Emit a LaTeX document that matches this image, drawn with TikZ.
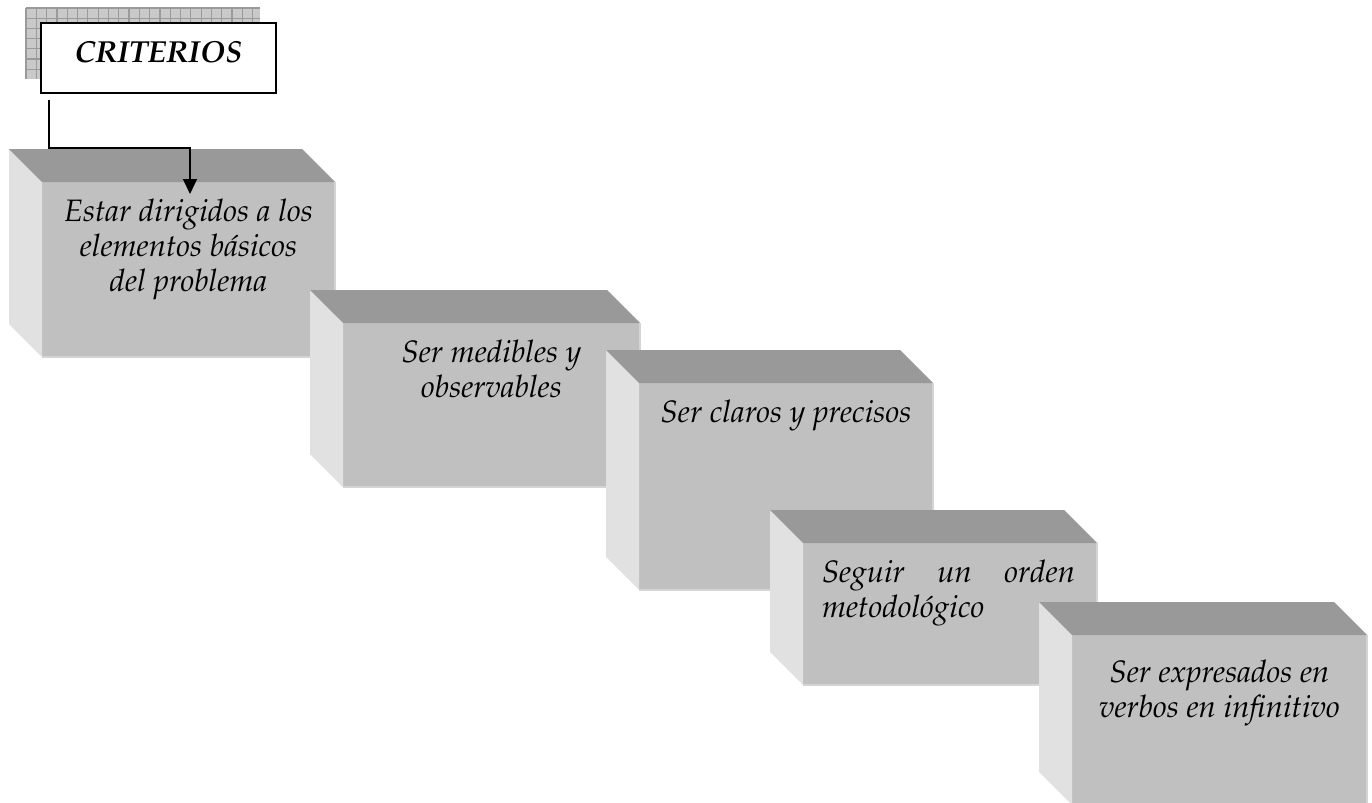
\documentclass[tikz,border=0pt]{standalone}
\usepackage[T1]{fontenc}
\renewcommand{\rmdefault}{ppl}
\usetikzlibrary{arrows.meta,calc}
\hyphenpenalty=10000
\exhyphenpenalty=10000
\definecolor{topc}{HTML}{999999}
\definecolor{frontc}{HTML}{C0C0C0}
\definecolor{leftc}{HTML}{E1E1E1}
\definecolor{edgec}{HTML}{D4D4D4}
\definecolor{shadc}{HTML}{C9C9C9}
\definecolor{gridc}{HTML}{9A9A9A}
\newcommand{\cubebox}[5]{%
  \node[frontface, minimum width={#4*0.5pt}, minimum height={#5*0.5pt}] (#1) at (#2,#3) {};
  \fill[leftc] (#1.north west) -- ++(-33,-33) -- ($(#1.south west)+(-33,-33)$) -- (#1.south west) -- cycle;
  \fill[topc] (#1.north west) -- ++(-33,-33) -- ($(#1.north east)+(-33,-33)$) -- (#1.north east) -- cycle;
  \draw[edgec, line width=0.6pt] (#1.north east) -- (#1.south east) -- (#1.south west);
}
\begin{document}
\begin{tikzpicture}[x=0.5pt,y=-0.5pt,
  frontface/.style={fill=frontc, draw=none, inner sep=0pt, outer sep=0pt, anchor=north west},
  txt/.style={font=\fontsize{15.5}{17.5}\selectfont\itshape, inner sep=0pt, outer sep=0pt, align=center, anchor=north},
  critbox/.style={draw=black, line width=1pt, fill=white, inner sep=0pt, outer sep=0pt, anchor=north west,
    minimum width=117.5pt, minimum height=35pt, font=\fontsize{15.2}{17}\selectfont\bfseries\itshape,
    text height=10pt, text depth=6pt},
  conn/.style={line width=0.75pt, -{Triangle[width=7pt,length=7.5pt]}}]
\useasboundingbox (0,0) rectangle (1372,803);
\fill[white] (0,0) rectangle (1372,803);
% shadow of title box
\fill[shadc] (26,8) rectangle (260,79);
\foreach \gx in {26,36.3,...,260} {\draw[gridc, line width=0.6pt] (\gx,8) -- (\gx,79);}
\foreach \gy in {8,18.2,...,79} {\draw[gridc, line width=0.6pt] (26,\gy) -- (260,\gy);}
\node[critbox] (crit) at (41,23) {CRITERIOS};
% boxes
\cubebox{b1}{42}{182}{293}{175}
\cubebox{b2}{343}{323}{297}{164}
\cubebox{b3}{639}{383}{294}{207}
\cubebox{b4}{803}{543}{294}{142}
\cubebox{b5}{1072}{635}{295}{170}
% texts
\node[txt] (t1) at ($(b1.north)+(0,14.5)$) {\strut Estar dirigidos a los\\elementos básicos\\del problema};
\node[txt] (t2) at ($(b2.north)+(0,14.5)$) {\strut Ser medibles y\\observables};
\node[txt] (t3) at ($(b3.north)+(0,14.5)$) {\strut Ser claros y precisos};
\node[txt, align=left, anchor=north west] (t4) at ($(b4.north west)+(19,14.5)$) {\strut\hbox to 126.5pt{Seguir\hfill un\hfill orden}\\metodológico};
\node[txt] (t5) at ($(b5.north)+(0,22.5)$) {\strut Ser expresados en\\verbos en infinitivo};
% connector
\coordinate (c0) at ($(crit.south west)+(8,7)$);
\coordinate (elb) at ($(crit.south west)+(8,55)$);
\coordinate (a1) at (190,194);
\draw[conn] (c0) -- (elb) -| (a1);
\end{tikzpicture}
\end{document}
